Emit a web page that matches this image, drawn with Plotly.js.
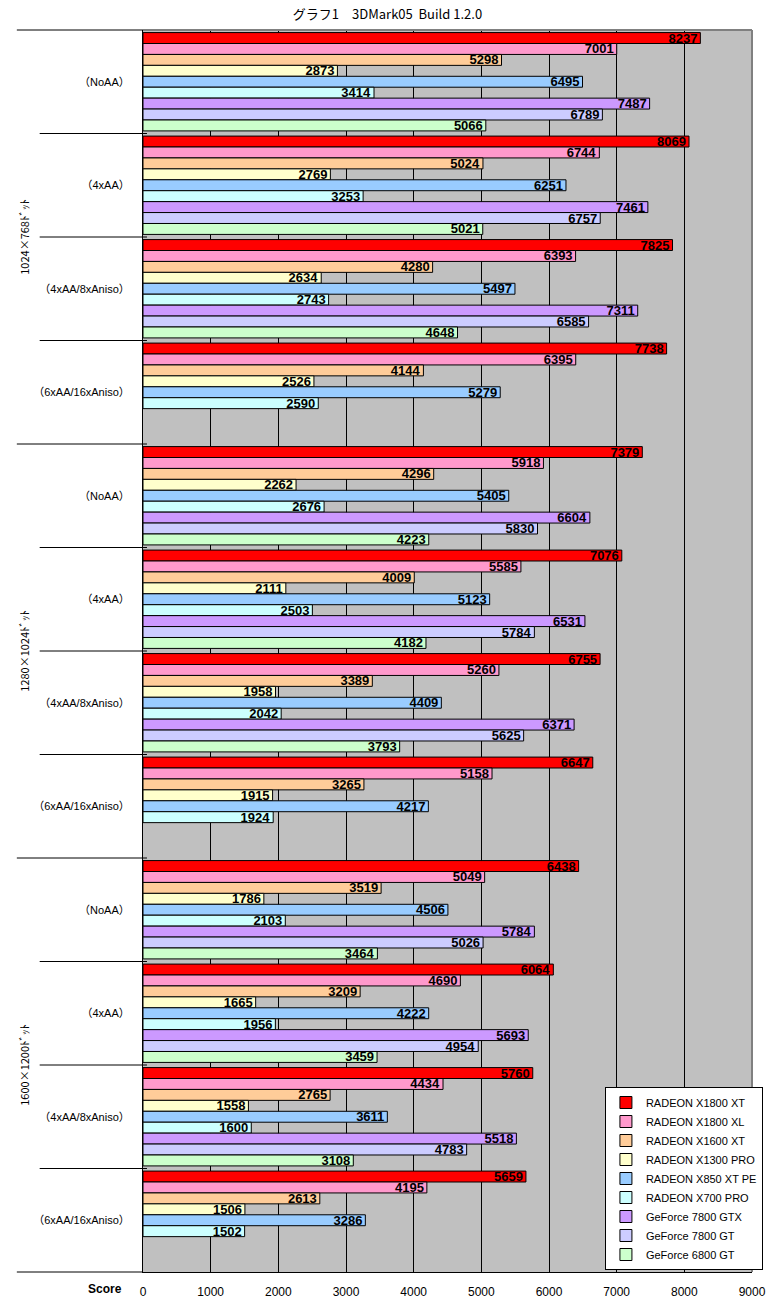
<!DOCTYPE html>
<html>
<head>
<meta charset="utf-8">
<script src="https://cdn.plot.ly/plotly-3.0.1.min.js"></script>
<style>
html,body{margin:0;padding:0;background:#fff;}
#chart{width:775px;height:1304px;}
</style>
</head>
<body>
<div id="chart"></div>
<script>
// ---- data ----
const chartTitle = 'グラフ1　3DMark05  Build 1.2.0';
const resolutions = ['1024×768ﾄﾞｯﾄ', '1280×1024ﾄﾞｯﾄ', '1600×1200ﾄﾞｯﾄ'];
const settings = ['（NoAA）', '（4xAA）', '（4xAA/8xAniso）', '（6xAA/16xAniso）'];
const seriesNames = ['RADEON X1800 XT', 'RADEON X1800 XL', 'RADEON X1600 XT', 'RADEON X1300 PRO',
  'RADEON X850 XT PE', 'RADEON X700 PRO', 'GeForce 7800 GTX', 'GeForce 7800 GT', 'GeForce 6800 GT'];
const seriesColors = ['#FF0000', '#FF99CC', '#FFCC99', '#FFFFCC', '#99CCFF', '#CCFFFF', '#CC99FF', '#CCCCFF', '#CCFFCC'];

const radeonX1800XT  = [8237, 8069, 7825, 7738, 7379, 7076, 6755, 6647, 6438, 6064, 5760, 5659];
const radeonX1800XL  = [7001, 6744, 6393, 6395, 5918, 5585, 5260, 5158, 5049, 4690, 4434, 4195];
const radeonX1600XT  = [5298, 5024, 4280, 4144, 4296, 4009, 3389, 3265, 3519, 3209, 2765, 2613];
const radeonX1300PRO = [2873, 2769, 2634, 2526, 2262, 2111, 1958, 1915, 1786, 1665, 1558, 1506];
const radeonX850XTPE = [6495, 6251, 5497, 5279, 5405, 5123, 4409, 4217, 4506, 4222, 3611, 3286];
const radeonX700PRO  = [3414, 3253, 2743, 2590, 2676, 2503, 2042, 1924, 2103, 1956, 1600, 1502];
const geforce7800GTX = [7487, 7461, 7311, null, 6604, 6531, 6371, null, 5784, 5693, 5518, null];
const geforce7800GT  = [6789, 6757, 6585, null, 5830, 5784, 5625, null, 5026, 4954, 4783, null];
const geforce6800GT  = [5066, 5021, 4648, null, 4223, 4182, 3793, null, 3464, 3459, 3108, null];

const seriesValues = [radeonX1800XT, radeonX1800XL, radeonX1600XT, radeonX1300PRO,
  radeonX850XTPE, radeonX700PRO, geforce7800GTX, geforce7800GT, geforce6800GT];

const xTickValues = [0, 1000, 2000, 3000, 4000, 5000, 6000, 7000, 8000, 9000];
const xAxisLabel = 'Score';

// ---- categories ----
const catKeys = [], catText = [];
resolutions.forEach(r => settings.forEach(s => { catKeys.push(r + '|' + s); catText.push(s); }));

const labelFont = 'Liberation Sans, Arial, Noto Sans CJK JP, sans-serif';
const cjkFont = 'Noto Sans CJK JP, sans-serif';

const traces = seriesNames.map((name, i) => ({
  type: 'bar',
  orientation: 'h',
  name: name,
  y: catKeys,
  x: seriesValues[i],
  text: seriesValues[i].map(v => v === null ? '' : String(v)),
  textposition: 'inside',
  insidetextanchor: 'end',
  constraintext: 'none',
  textangle: 0,
  insidetextfont: {family: labelFont, size: 13, color: '#000', weight: 'bold'},
  marker: {color: seriesColors[i], line: {color: '#000', width: 1}},
  hoverinfo: 'x+name'
}));

// ---- decorations: category dividers, resolution labels ----
const plotL = 143, plotR = 756, plotT = 30, plotB = 1272;
const pw = plotR - plotL, ph = plotB - plotT;
const nCat = catKeys.length;
const shapes = [];
for (let i = 0; i <= nCat; i++) {
  const yp = 1 - i / nCat;
  const isLong = (i % settings.length === 0);
  shapes.push({type: 'line', xref: 'paper', yref: 'paper',
    x0: ((isLong ? 16 : 39) - plotL) / pw, x1: (i === nCat ? 0 : 4 / pw),
    y0: yp, y1: yp, line: {color: '#000', width: 1}});
}
// gray top and right border of plot area
shapes.push({type: 'line', xref: 'paper', yref: 'paper', x0: 0, x1: 1, y0: 1, y1: 1, line: {color: '#808080', width: 2}, layer: 'above'});
shapes.push({type: 'line', xref: 'paper', yref: 'paper', x0: 1, x1: 1, y0: 0, y1: 1, line: {color: '#808080', width: 2}, layer: 'above'});

const annotations = resolutions.map((r, k) => ({
  text: r, xref: 'paper', yref: 'paper',
  x: (23 - plotL) / pw, y: 1 - (k * settings.length + settings.length / 2) / nCat,
  textangle: -90, showarrow: false, xanchor: 'center', yanchor: 'middle',
  font: {family: cjkFont, size: 11, color: '#000'}
}));
annotations.push({
  text: '<b>' + xAxisLabel + '</b>', xref: 'paper', yref: 'paper',
  x: (105 - plotL) / pw, y: -(1289 - plotB) / ph, showarrow: false,
  xanchor: 'center', yanchor: 'middle',
  font: {family: labelFont, size: 12, color: '#000'}
});

const layout = {
  width: 775, height: 1304,
  margin: {l: plotL, r: 775 - plotR, t: plotT, b: 1304 - plotB, pad: 0},
  paper_bgcolor: '#FFFFFF',
  plot_bgcolor: '#C0C0C0',
  title: {text: chartTitle, x: 0.5, xanchor: 'center', y: 1 - 14 / 1304, yanchor: 'middle', yref: 'container',
    font: {family: cjkFont, size: 13, color: '#000'}},
  barmode: 'group',
  bargap: 0.05,
  bargroupgap: 0,
  showlegend: true,
  legend: {
    x: (767 - plotL) / pw, xanchor: 'right', y: (plotB - 1270) / ph, yanchor: 'bottom',
    bgcolor: '#FFFFFF', bordercolor: '#000', borderwidth: 1,
    font: {family: labelFont, size: 11, color: '#000'},
    traceorder: 'normal', itemwidth: 30
  },
  xaxis: {
    range: [0, 9000], tickmode: 'array', tickvals: xTickValues, ticktext: xTickValues.map(String),
    showgrid: true, gridcolor: '#000', gridwidth: 1, zeroline: false,
    showline: true, linecolor: '#000', linewidth: 1, ticks: '',
    ticklabelstandoff: 9,
    tickfont: {family: 'Liberation Sans Narrow, Arial Narrow, Liberation Sans, sans-serif', size: 12, color: '#000'},
    fixedrange: true
  },
  yaxis: {
    type: 'category', categoryorder: 'array', categoryarray: catKeys,
    autorange: 'reversed',
    tickmode: 'array', tickvals: catKeys, ticktext: catText,
    showgrid: false, zeroline: false, showline: true, linecolor: '#000', linewidth: 1,
    ticks: '', ticklabelstandoff: 10,
    tickfont: {family: labelFont, size: 11, color: '#000'},
    fixedrange: true
  },
  shapes: shapes,
  annotations: annotations
};

Plotly.newPlot('chart', traces, layout, {displayModeBar: false, staticPlot: true});
</script>
</body>
</html>
